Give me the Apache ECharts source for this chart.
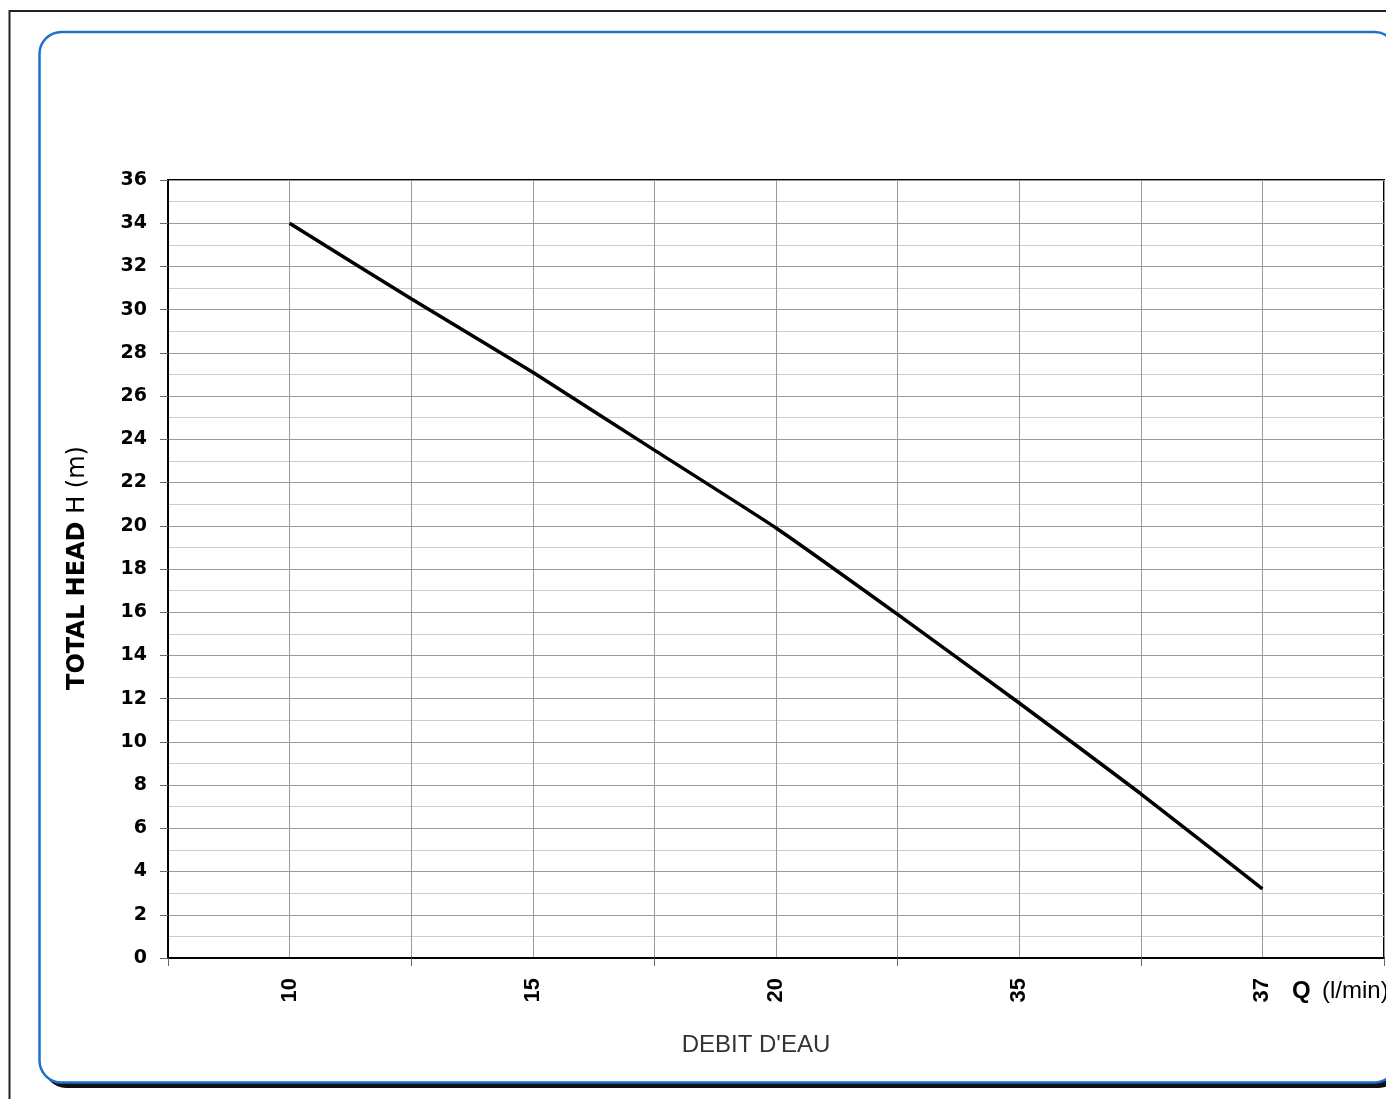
<!DOCTYPE html>
<html><head><meta charset="utf-8">
<script src="https://cdn.jsdelivr.net/npm/echarts@6/dist/echarts.min.js"></script>
<style>html,body{margin:0;padding:0;background:#fff}#c{width:1386px;height:1099px}</style>
</head><body><div id="c"></div>
<script>
// Flow rate labels (l/min) shown on the x axis
const flowLabels = ["10", "15", "20", "35", "37"];
// Total head (m) read at each labelled flow
const headAtLabels = [34.0, 27.1, 19.9, 11.8, 3.2];
// Total head (m) read halfway between consecutive labelled flows
const headBetween = [30.5, 23.5, 15.9, 7.6];
// Y axis range / step
const yMin = 0, yMax = 36, yStep = 2;

// Build the category slots: edge, label, mid, label, ..., label, edge
const slots = ["edge0"];
const headData = [null];
flowLabels.forEach((q, i) => {
  slots.push(q); headData.push(headAtLabels[i]);
  if (i < headBetween.length) { slots.push("mid" + i); headData.push(headBetween[i]); }
});
slots.push("edge1"); headData.push(null);

const chart = echarts.init(document.getElementById('c'), null, {renderer: 'canvas'});
chart.setOption({
  backgroundColor: '#fff',
  animation: false,
  grid: {left: 168, right: 2, top: 180, bottom: 141, show: true, borderColor: '#000', borderWidth: 2, backgroundColor: 'transparent', containLabel: false},
  xAxis: {
    type: 'category', boundaryGap: false, data: slots,
    axisLine: {lineStyle: {color: '#000', width: 2}},
    axisTick: {show: true, length: 8, interval: (i) => i % 2 === 0, lineStyle: {color: '#666'}},
    axisLabel: {interval: 0, rotate: 90, margin: 20, color: '#000', fontFamily: 'Liberation Sans', fontWeight: 'bold', fontSize: 22,
      formatter: (v) => flowLabels.includes(v) ? v : ''},
    splitLine: {show: true, interval: 0, lineStyle: {color: '#9a9a9a', width: 1}}
  },
  yAxis: {
    type: 'value', min: yMin, max: yMax, interval: yStep,
    axisLine: {show: true, lineStyle: {color: '#000', width: 2}},
    axisTick: {show: true, length: 8, lineStyle: {color: '#666'}},
    axisLabel: {margin: 21, color: '#000', fontFamily: 'DejaVu Sans', fontWeight: 'bold', fontSize: 19},
    splitLine: {show: true, lineStyle: {color: '#9a9a9a', width: 1}},
    minorTick: {show: false, splitNumber: 2},
    minorSplitLine: {show: true, lineStyle: {color: '#cdcdcd', width: 1}}
  },
  series: [{
    type: 'line', data: headData, symbol: 'none', smooth: 0.15, connectNulls: false,
    lineStyle: {color: '#000', width: 3.5}, z: 5
  }],
  graphic: [
    {type: 'polyline', z: -20, silent: true, shape: {points: [[9.5, 1099], [9.5, 11], [1386, 11]]}, style: {stroke: '#222', lineWidth: 2, fill: null}},
    {type: 'rect', z: -19, silent: true, shape: {x: 44, y: 38, width: 1357, height: 1050, r: 22}, style: {fill: '#111'}},
    {type: 'rect', z: -18, silent: true, shape: {x: 39.5, y: 32, width: 1357, height: 1050.5, r: 22}, style: {fill: '#fff', stroke: '#1f6fcf', lineWidth: 2.5}},
    {type: 'text', z: 10, x: 756, y: 1045, style: {text: "DEBIT D'EAU", fill: '#333', font: '24px "Liberation Sans"', align: 'center', verticalAlign: 'middle'}},
    {type: 'text', z: 10, x: 1292, y: 991, style: {text: 'Q', fill: '#000', font: 'bold 24px "Liberation Sans"', align: 'left', verticalAlign: 'middle'}},
    {type: 'text', z: 10, x: 1322, y: 991, style: {text: '(l/min)', fill: '#000', font: '24px "Liberation Sans"', align: 'left', verticalAlign: 'middle'}},
    {type: 'text', z: 10, x: 78, y: 568, rotation: Math.PI / 2,
      style: {text: '{b|TOTAL HEAD}{n|\u00a0H (m)}', align: 'center', verticalAlign: 'middle',
      rich: {b: {fontFamily: 'DejaVu Sans', fontWeight: 'bold', fontSize: 24, fill: '#000'}, n: {fontFamily: 'DejaVu Sans', fontSize: 24, fill: '#000'}}}}
  ]
});
</script>
</body></html>
